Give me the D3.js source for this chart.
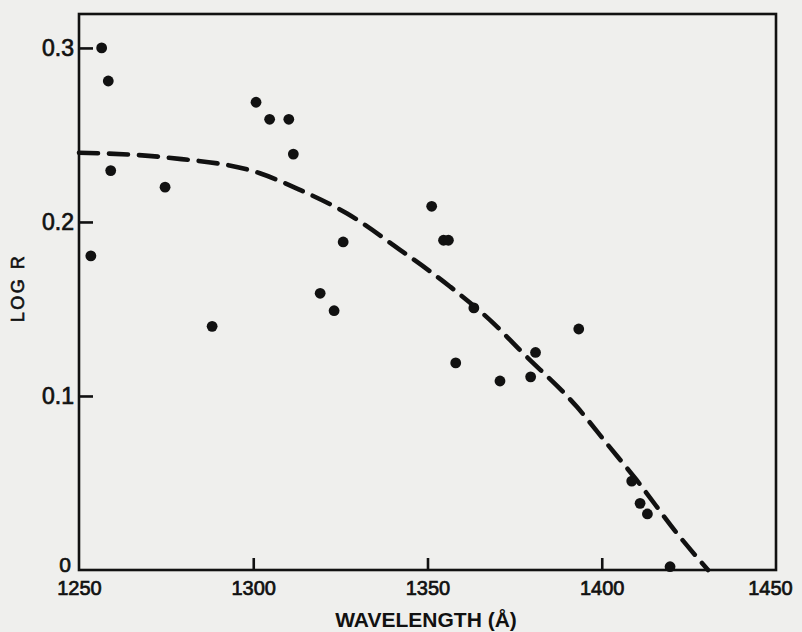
<!DOCTYPE html>
<html>
<head>
<meta charset="utf-8">
<script src="https://cdn.jsdelivr.net/npm/d3@7"></script>
<style>
  html, body { margin: 0; padding: 0; background: #efefed; }
  svg { display: block; }
  .tick text { font-family: "Liberation Sans", Arial, sans-serif; fill: #111; stroke: #111; stroke-width: 0.7; }
</style>
</head>
<body>
<svg id="chart" width="802" height="632"></svg>
<script>
// Observed data points (wavelength in Å, log R)
const wavelengths = [1256.5, 1258.4, 1259.1, 1253.4, 1274.7, 1288.2, 1300.8, 1304.7, 1310.2, 1311.5,
                     1325.8, 1319.2, 1323.2, 1351.2, 1354.6, 1356.0, 1363.3, 1358.1, 1370.8, 1379.6,
                     1381.0, 1393.4, 1408.6, 1411.0, 1413.1, 1419.6];
const logR = [0.300, 0.281, 0.2295, 0.1805, 0.220, 0.140, 0.2688, 0.259, 0.259, 0.239,
              0.1885, 0.159, 0.149, 0.209, 0.1895, 0.1895, 0.1506, 0.119, 0.1086, 0.111,
              0.125, 0.1385, 0.0511, 0.0383, 0.0322, 0.0019];

// Dashed fitted curve
const curveWavelengths = [1250, 1275.2, 1301.9, 1313.4, 1326.8, 1342.1, 1356.5, 1368.8, 1376.5, 1392.8, 1401.4, 1410.0, 1421.5, 1430.5];
const curveLogR =        [0.2398, 0.237, 0.228, 0.2184, 0.205, 0.184, 0.1628, 0.142, 0.1264, 0.0939, 0.0728, 0.0517, 0.0213, 0.0];

const xTicks = [1250, 1300, 1350, 1400, 1450];
const yTicks = [0, 0.1, 0.2, 0.3];
const xTitle = "WAVELENGTH (Å)";
const yTitle = "LOG R";

const ink = "#111";
const svg = d3.select("#chart");
const mLeft = 79, mRight = 776, mTop = 14, mBottom = 570;

const x = d3.scaleLinear().domain([1250, 1450]).range([mLeft, mRight]);
const y = d3.scaleLinear().domain([0, 0.3195]).range([mBottom, mTop]);

// frame
svg.append("rect")
  .attr("x", mLeft).attr("y", mTop)
  .attr("width", mRight - mLeft).attr("height", mBottom - mTop)
  .attr("fill", "none").attr("stroke", ink).attr("stroke-width", 2.6);

// y axis
const yAxis = svg.append("g")
  .attr("transform", `translate(${mLeft},0)`)
  .call(d3.axisLeft(y).tickValues(yTicks).tickSize(-14).tickPadding(5)
        .tickFormat(d => d === 0 ? "0" : d3.format(".1f")(d)));
yAxis.select(".domain").remove();
yAxis.selectAll(".tick line").attr("stroke", ink).attr("stroke-width", 2.6);
yAxis.selectAll(".tick text").attr("font-size", 23);
yAxis.selectAll(".tick").filter(d => d === 0).select("line").remove();
yAxis.selectAll(".tick").filter(d => d === 0).select("text").attr("dy", "0.05em").attr("x", -8).attr("font-size", 21);

// x axis
const xAxis = svg.append("g")
  .attr("transform", `translate(0,${mBottom})`)
  .call(d3.axisBottom(x).tickValues(xTicks).tickSize(-12).tickPadding(11)
        .tickFormat(d3.format("d")));
xAxis.select(".domain").remove();
xAxis.selectAll(".tick line").attr("stroke", ink).attr("stroke-width", 2.6);
xAxis.selectAll(".tick text").attr("font-size", 20);
xAxis.selectAll(".tick").filter(d => d === 1250 || d === 1450).select("line").remove();
xAxis.selectAll(".tick").filter(d => d === 1450).select("text").attr("dx", "-6");

// dashed curve
const curveData = curveWavelengths.map((w, i) => [w, curveLogR[i]]);
svg.append("path")
  .datum(curveData)
  .attr("d", d3.line().x(d => x(d[0])).y(d => y(d[1])).curve(d3.curveMonotoneX))
  .attr("fill", "none")
  .attr("stroke", ink)
  .attr("stroke-width", 4.6)
  .attr("stroke-linecap", "round")
  .attr("stroke-dasharray", "19,11");

// points
svg.append("g").selectAll("circle")
  .data(wavelengths.map((w, i) => [w, logR[i]]))
  .join("circle")
  .attr("cx", d => x(d[0]))
  .attr("cy", d => y(d[1]))
  .attr("r", 5.4)
  .attr("fill", ink);

// axis titles
svg.append("text")
  .attr("x", 426).attr("y", 627)
  .attr("text-anchor", "middle")
  .attr("font-family", "'Liberation Sans', Arial, sans-serif")
  .attr("font-weight", "bold")
  .attr("font-size", 21)
  .attr("fill", ink)
  .text(xTitle);

svg.append("text")
  .attr("transform", "translate(24,288) rotate(-90)")
  .attr("text-anchor", "middle")
  .attr("font-family", "'Liberation Sans', Arial, sans-serif")
  .attr("font-size", 18)
  .attr("letter-spacing", 2.5)
  .attr("fill", ink)
  .attr("stroke", ink)
  .attr("stroke-width", 0.6)
  .text(yTitle);
</script>
</body>
</html>
